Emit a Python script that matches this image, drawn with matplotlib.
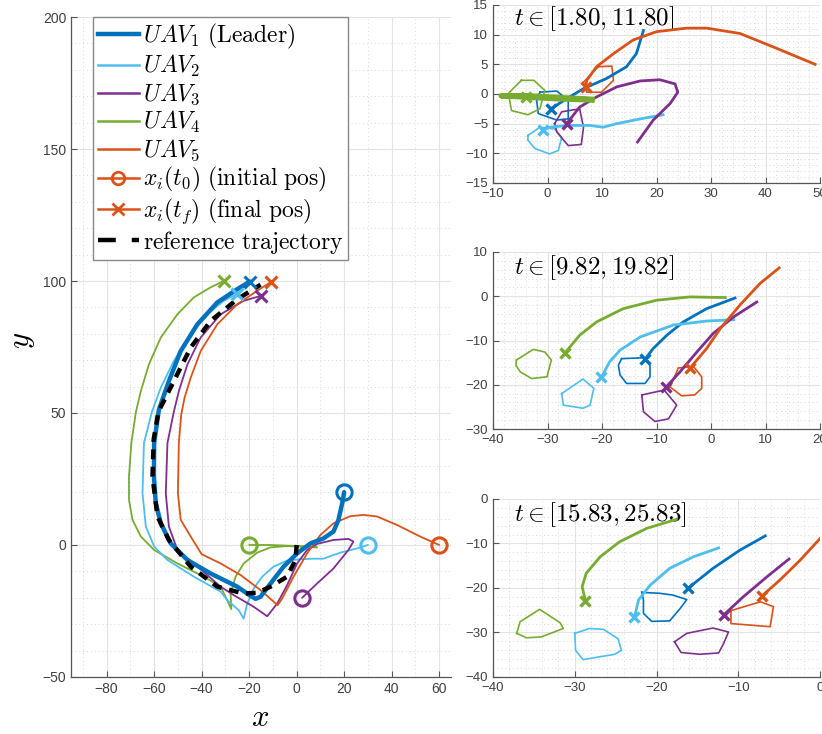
import matplotlib
matplotlib.use("Agg")
import matplotlib.pyplot as plt
from matplotlib.ticker import MultipleLocator
from matplotlib.lines import Line2D

plt.rcParams['mathtext.fontset'] = 'cm'
plt.rcParams['font.family'] = ['Liberation Sans', 'DejaVu Sans']

C1, C2, C3, C4, C5 = '#0072BD', '#4DBEEE', '#7E2F8E', '#77AC30', '#D95319'
COLORS = [C1, C2, C3, C4, C5]

# ---------------- main plot data ----------------
uav1_x = [20, 19.5, 17.6, 15.5, 11.3, 5.8, 0.2, -5.5, -11, -15.2, -17.3, -19.4, -25, -36.2, -46, -53, -57.2,
          -59.3, -60.1, -60, -58, -53.8, -48.8, -41.8, -33.4, -25, -19.7]
uav1_y = [20, 17.1, 9.5, 5.1, 2.5, 0.6, -3.2, -8.2, -14.6, -19.6, -20.4, -19.3, -15.8, -10.8, -5.7, 0.6, 8.2,
          15.8, 26, 38.6, 51.3, 62.1, 73.5, 83.6, 91.9, 96.9, 99.8]

ref_x = [0, -0.5, -4, -11, -16.6, -22.3, -33.4, -44.6, -53.8, -58.6, -60.7, -60.2, -58.2, -51.7, -44.6, -36.2, -25, -15.2]
ref_y = [0, -5.7, -12, -15.8, -18.1, -18.4, -15.8, -8.2, 1.9, 10.8, 26, 40, 50.5, 62.1, 74.8, 84.9, 93.1, 98.6]

uav2_x = [30, 25.4, 18.4, 14.2, 11.3, 7.1, 1.6, -4, -9.7, -14.5, -18.1, -20.8, -22.3, -24.4, -29.2, -32, -43.3, -54.4,
          -60, -63.5, -64.9, -64.3, -61, -57.2, -51.7, -44.6, -37.6, -30.7, -25.3]
uav2_y = [0, -1.3, -2.9, -4.2, -5.2, -5.2, -5.4, -5.9, -8.2, -12, -16.5, -22.2, -27.9, -24.7, -20.9, -17.7, -12, -5.7,
          -0.6, 7, 19.6, 38.6, 50.3, 59.6, 69.7, 79.8, 87.4, 92.5, 95]

uav3_x = [2.3, 8.6, 15.5, 21.8, 23.9, 21.8, 15.5, 8.6, 4.4, 0.2, -4, -8.2, -12.4, -18.1, -26.5, -32, -43.3, -50.2,
          -53.8, -55.1, -54.4, -51.7, -49.6, -46, -40.4, -32, -22.3, -15]
uav3_y = [-20, -14.6, -8.9, -1.9, 1.3, 2.3, 1.9, 0.4, -1.9, -7, -15.2, -22.2, -27, -23.4, -19, -15.8, -7, -1.9,
          7, 19.6, 38.6, 50.5, 58.3, 68.4, 78.6, 87.4, 92.5, 94.4]

uav4_x = [-20, -11, 0.2, 8.6, -4, -11, -16.6, -22.3, -25.7, -27.8, -27.5, -30, -32, -39.1, -50.2, -60, -65.6, -69.1,
          -70.6, -70.6, -69.6, -67.7, -65.6, -62.2, -57.2, -50.2, -43.3, -36.2, -30.7]
uav4_y = [0, 0, -0.4, -0.9, -0.4, -0.9, -2.9, -7, -12, -18.4, -24.3, -19.5, -15.8, -12, -7, -1.9, 3.2, 9.5,
          17.1, 26, 38.6, 50.3, 58.3, 68.4, 78.6, 87.4, 93.8, 97.6, 100]

uav5_x = [60, 52, 42.2, 33.8, 28.1, 22.6, 15.5, 10, 4.4, -1.3, -6.1, -8, -15.2, -23.6, -32, -40, -44.6, -48.8,
          -50, -49.6, -48.6, -47.2, -44.6, -40.4, -33.4, -25, -16.6, -10.6]
uav5_y = [0, 3.2, 7.6, 10.8, 11.4, 10.9, 8.2, 3.8, -3.2, -12, -20.3, -22.8, -17.1, -11.4, -7, -3.5, 3.2, 9.5,
          19.6, 38.6, 49.4, 55.8, 63.4, 73.5, 83.6, 91.2, 96.3, 99.8]

# ---------------- window 1: t in [1.80, 11.80] ----------------
w1_traj = {
    'x': [[17.6, 16.3, 14.5, 10.8, 6.6, 3.5, 0.6],
          [21.2, 17, 12.7, 10.2, 7.8, 3.5, 0.4, -0.9],
          [16.5, 19.4, 22.5, 23.9, 23.4, 20.6, 17, 12.7, 9, 5.9, 3.5],
          [8.1, 2, -4, -8.5, -4, 2, 8.1],
          [49.1, 41.5, 35.3, 29.2, 25.5, 20, 15.7, 12.1, 9, 7.2, 7]],
    'y': [[10.7, 6.8, 4.6, 2.6, 0.9, -0.8, -2.5],
          [-3.5, -4.2, -5, -5.6, -5.3, -5.3, -5.6, -6.1],
          [-8.1, -4.4, -1.6, 0.3, 1.7, 2.4, 2.2, 1.2, -0.5, -2.2, -5],
          [-1.0, -0.8, -0.5, -0.3, -0.3, -0.6, -0.9],
          [5, 7.9, 10.2, 11.1, 11.1, 10.5, 9.1, 6.8, 4.6, 2.3, 1.2]],
}
w1_final = {'x': [0.6, -0.9, 3.5, -4, 7], 'y': [-2.5, -6.1, -5, -0.5, 1.2]}
w1_poly = {
    'x': [[-1.4, 1.7, 3.8, 3.8, 1.7, -1.7, -2.0],
          [-3.6, -1.4, 1.3, 2.6, 2.0, 0.4, -2.3, -3.6],
          [1.3, 2.6, 5.9, 6.6, 6.2, 3.8, 1.7],
          [-4.8, -2.5, -0.5, -1.4, -3.6, -6.6, -7.2],
          [9.3, 11.8, 12.1, 9.9, 7.2, 6.6]],
    'y': [[0.3, 0.5, -1.1, -4.2, -4.4, -3.3, -1.1],
          [-7.0, -5.6, -5.9, -7.3, -9.5, -10.1, -9.2, -7.8],
          [-5.0, -3.0, -2.5, -5.6, -8.5, -8.7, -6.4],
          [2.3, 2.3, 0.6, -2.5, -3.5, -2.8, 0.1],
          [4.6, 4.7, 2.3, 0.3, 0.3, 2.0]],
}

# ---------------- window 2: t in [9.82, 19.82] ----------------
w2_traj = {
    'x': [[4.4, -0.8, -5.1, -8.1, -10.6, -12.1],
          [4.2, -0.8, -6.9, -13, -16.7, -18.6, -20.1],
          [8.4, 4.1, 0.4, -2.6, -5.7, -8.3],
          [2.6, -3.9, -10, -16.1, -21, -24.1, -26.8],
          [12.5, 9, 5.3, 1.7, -0.8, -3.9]],
    'y': [[-0.4, -2.8, -5.8, -8.8, -11.8, -14.2],
          [-5.3, -5.6, -6.5, -9.2, -12.2, -14.8, -18.3],
          [-1.3, -4.7, -8.4, -12.6, -17.1, -20.6],
          [-0.3, -0.15, -0.9, -2.8, -5.8, -8.8, -12.8],
          [6.4, 2.9, -2, -7.3, -11.8, -16.3]],
}
w2_poly = {
    'x': [[-16.4, -12.4, -11.2, -11.2, -12.1, -15.5, -16.7, -17.0],
          [-27.4, -23.5, -21.5, -22.2, -23.5, -27.1],
          [-12.7, -8.6, -6.3, -7.8, -10.3, -12.4],
          [-35.7, -32.6, -30.5, -29.3, -30.1, -32.9, -35.0, -35.8],
          [-7.5, -6.0, -3.2, -1.7, -1.7, -3.0, -5.4]],
    'y': [[-14.1, -13.9, -15.6, -18.2, -19.7, -19.7, -17.8, -15.6],
          [-22.0, -18.7, -20.8, -24.6, -25.3, -24.6],
          [-22.3, -21.2, -24.6, -27.7, -28.3, -26.1],
          [-14.4, -12.0, -12.6, -14.4, -18.2, -18.6, -17.1, -15.6],
          [-20.5, -16.2, -15.9, -18.2, -20.8, -22.3, -22.5]],
}

# ---------------- window 3: t in [15.83, 25.83] ----------------
w3_traj = {
    'x': [[-6.7, -9.8, -13.1, -16.1],
          [-12.4, -15.5, -18.4, -20.8, -22.2, -22.7],
          [-3.8, -6.5, -9.4, -11.8],
          [-17.6, -21.2, -24.5, -26.9, -28.6, -29.1, -28.7],
          [0.2, -2.4, -4.9, -7.1]],
    'y': [[-8.3, -11.5, -15.6, -20.0],
          [-11.0, -13.0, -15.6, -19.4, -22.7, -26.6],
          [-13.5, -17.5, -22.0, -26.1],
          [-4.6, -6.6, -9.6, -13.0, -16.7, -19.7, -22.9],
          [-8.5, -13.7, -18.2, -21.8]],
}
w3_poly = {
    'x': [[-21.8, -19.6, -18.0, -16.3, -17.1, -18.4, -20.6, -21.6, -21.6],
          [-30.0, -28.2, -26.5, -24.7, -24.3, -25.1, -29.0, -29.9],
          [-17.8, -16.3, -13.1, -11.2, -11.8, -12.4, -14.7, -17.0],
          [-37.1, -36.7, -34.3, -31.8, -31.4, -34.1, -35.9],
          [-10.9, -7.3, -5.7, -6.1, -10.9]],
    'y': [[-21.0, -21.2, -21.6, -22.6, -24.6, -27.4, -27.5, -25.7, -22.7],
          [-30.2, -29.1, -29.3, -31.4, -34.0, -34.9, -36.1, -34.0],
          [-32.1, -30.2, -29.0, -29.9, -32.5, -34.6, -34.9, -34.5],
          [-30.2, -27.6, -24.8, -27.8, -29.1, -31.0, -31.2],
          [-25.1, -23.1, -24.2, -28.7, -28.0]],
}

window_labels = [r'$t \in [1.80, 11.80]$', r'$t \in [9.82, 19.82]$', r'$t \in [15.83, 25.83]$']
window_xlim = [(-10, 50), (-40, 20), (-40, 0)]
window_ylim = [(-15, 15), (-30, 10), (-40, 0)]
window_ystep = [5, 10, 10]

legend_labels = [r'$UAV_1\ \mathrm{(Leader)}$', r'$UAV_2$', r'$UAV_3$', r'$UAV_4$', r'$UAV_5$',
                 r'$x_i(t_0)\ \mathrm{(initial\ pos)}$', r'$x_i(t_f)\ \mathrm{(final\ pos)}$',
                 r'$\mathrm{reference\ trajectory}$']

TICKC = '#404040'

def style_axes(ax, xmaj, xmin, ymaj, ymin, fs=9.5):
    ax.xaxis.set_major_locator(MultipleLocator(xmaj))
    ax.xaxis.set_minor_locator(MultipleLocator(xmin))
    ax.yaxis.set_major_locator(MultipleLocator(ymaj))
    ax.yaxis.set_minor_locator(MultipleLocator(ymin))
    ax.grid(True, which='major', color='#e3e3e3', linewidth=0.8)
    ax.grid(True, which='minor', color='#d9d9d9', linestyle=(0, (1, 3)), linewidth=0.7)
    ax.set_axisbelow(True)
    for s in ['top', 'right']:
        ax.spines[s].set_visible(False)
    for s in ['left', 'bottom']:
        ax.spines[s].set_color('#555555')
        ax.spines[s].set_linewidth(0.9)
    ax.tick_params(which='major', direction='in', length=4, colors='#555555',
                   labelcolor=TICKC, labelsize=fs, width=0.8)
    ax.tick_params(which='minor', length=0)

fig = plt.figure(figsize=(8.22, 7.34), dpi=100)

# ---------- main axes ----------
ax = fig.add_axes([0.0864, 0.0777, 0.4623, 0.8991])
data = [(uav1_x, uav1_y), (uav2_x, uav2_y), (uav3_x, uav3_y), (uav4_x, uav4_y), (uav5_x, uav5_y)]
order = [3, 1, 2, 4, 0]
for i in order:
    x, y = data[i]
    lw = 3.2 if i == 0 else 1.3
    ax.plot(x, y, color=COLORS[i], lw=lw, zorder=3 + (1 if i == 0 else 0),
            solid_joinstyle='round', solid_capstyle='round')
ax.plot(ref_x, ref_y, color='black', lw=3.2, dashes=(2.2, 1.7), zorder=5)
for i in range(5):
    x, y = data[i]
    ax.plot(x[0], y[0], marker='o', ms=11, mfc='none', mec=COLORS[i], mew=2.2, zorder=6)
    ax.plot(x[-1], y[-1], marker='x', ms=8, mec=COLORS[i], mew=2.2, zorder=6)
ax.set_xlim(-95, 65)
ax.set_ylim(-50, 200)
style_axes(ax, 20, 10, 50, 10, fs=10)
ax.set_xlabel(r'$x$', fontsize=22, va='center', ha='center')
ax.set_ylabel(r'$y$', fontsize=22, rotation=90, va='center', ha='center')
ax.xaxis.set_label_coords(0.497, -0.062)
ax.yaxis.set_label_coords(-0.128, 0.51)

handles = [Line2D([], [], color=COLORS[0], lw=3.2),
           Line2D([], [], color=COLORS[1], lw=1.8),
           Line2D([], [], color=COLORS[2], lw=1.8),
           Line2D([], [], color=COLORS[3], lw=1.8),
           Line2D([], [], color=COLORS[4], lw=1.8),
           Line2D([], [], color=C5, lw=1.8, marker='o', ms=9, mfc='none', mew=2),
           Line2D([], [], color=C5, lw=1.8, marker='x', ms=8, mew=2),
           Line2D([], [], color='black', lw=3.2, dashes=(4, 3.6))]
leg = ax.legend(handles, legend_labels, loc='upper left', bbox_to_anchor=(0.058, 1.0),
                fontsize=17, frameon=True, fancybox=False, framealpha=1,
                edgecolor='#888888', handlelength=1.75, handletextpad=0.15,
                labelspacing=0.1, borderpad=0.2, borderaxespad=0.0)
leg.get_frame().set_linewidth(1.0)

# ---------- window axes ----------
win_rects = [[0.5998, 0.7507, 0.3978, 0.2425],
             [0.5998, 0.4155, 0.3978, 0.2412],
             [0.5998, 0.0777, 0.3978, 0.2425]]
win_data = [(w1_traj, w1_poly), (w2_traj, w2_poly), (w3_traj, w3_poly)]
for k in range(3):
    a = fig.add_axes(win_rects[k])
    traj, poly = win_data[k]
    for i in range(5):
        px = poly['x'][i] + [poly['x'][i][0]]
        py = poly['y'][i] + [poly['y'][i][0]]
        a.plot(px, py, color=COLORS[i], lw=1.2, zorder=3)
    for i in range(5):
        tx, ty = traj['x'][i], traj['y'][i]
        lw = 4 if (k == 0 and i == 3) else 2.0
        a.plot(tx, ty, color=COLORS[i], lw=lw, zorder=4, solid_joinstyle='round')
        if k == 0:
            fx, fy = w1_final['x'][i], w1_final['y'][i]
        else:
            fx, fy = tx[-1], ty[-1]
        a.plot(fx, fy, marker='x', ms=7, mec=COLORS[i], mew=2.4, zorder=5)
    a.set_xlim(*window_xlim[k])
    a.set_ylim(*window_ylim[k])
    style_axes(a, 10, 2, window_ystep[k], window_ystep[k] / 5, fs=9.5)
    a.text(0.065, 0.925 if k == 0 else 0.91, window_labels[k], transform=a.transAxes,
           fontsize=18, ha='left', va='center')

fig.savefig('out.png', dpi=100)
